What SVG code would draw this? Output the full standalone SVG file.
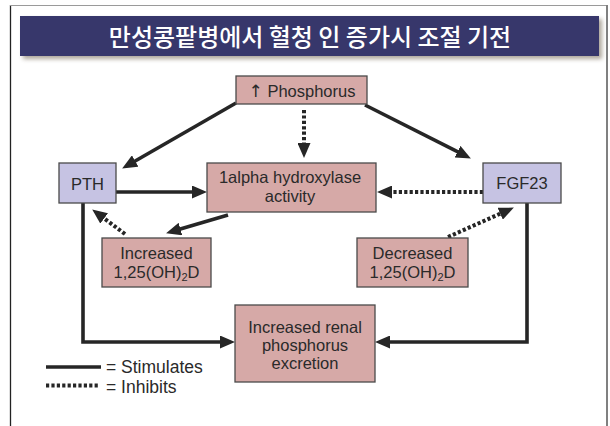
<svg xmlns="http://www.w3.org/2000/svg" width="610" height="426" viewBox="0 0 610 426">
<style>
.box{stroke:#4a4a4a;stroke-width:1.3}
.pink{fill:#d6a9a7}
.lav{fill:#c6c3e3}
.t{font-family:"Liberation Sans",Arial,sans-serif;font-size:16.5px;fill:#2a2a2a;text-anchor:middle}
.lg{font-family:"Liberation Sans",Arial,sans-serif;font-size:17.5px;fill:#2a2a2a}
.s{fill:none;stroke:#262626;stroke-width:3.6}
.d{fill:none;stroke:#262626;stroke-width:4;stroke-dasharray:3.2 2.2}
</style>
<defs>
<marker id="ah" viewBox="0 0 15 13" refX="1" refY="6.5" markerWidth="15" markerHeight="13" markerUnits="userSpaceOnUse" orient="auto">
<path d="M0,0 L15,6.5 L0,13 z" fill="#262626"/>
</marker>
<filter id="sh" x="-5%" y="-30%" width="110%" height="160%">
<feGaussianBlur stdDeviation="2"/>
</filter>
</defs>
<rect width="610" height="426" fill="#ffffff"/>
<g id="frame">
<line x1="10.5" y1="5" x2="10.5" y2="426" stroke="#222" stroke-width="1.3"/>
<line x1="10" y1="5.5" x2="607" y2="5.5" stroke="#9a9a9a" stroke-width="1"/>
<line x1="607" y1="5" x2="607" y2="426" stroke="#808080" stroke-width="2"/>
</g>
<g id="title">
<rect x="23" y="19" width="579" height="40" fill="#8a8070" opacity="0.7" filter="url(#sh)"/>
<rect x="20" y="16" width="579" height="40" fill="#37376b"/>
<text x="310" y="46" font-family="'Noto Sans CJK KR','Noto Sans',sans-serif" font-size="24" font-weight="500" fill="#ffffff" text-anchor="middle">만성콩팥병에서 혈청 인 증가시 조절 기전</text>
</g>
<g id="connectors">
<path class="s" d="M236,103 L134.3,161.5" marker-end="url(#ah)"/>
<path class="s" d="M365,105 L458.4,152.1" marker-end="url(#ah)"/>
<path class="d" d="M304,110 V144" marker-end="url(#ah)"/>
<path class="s" d="M116,192 H193" marker-end="url(#ah)"/>
<path class="s" d="M228,215 L179.5,229.3" marker-end="url(#ah)"/>
<path class="d" d="M125,234 L103.4,217.8" marker-end="url(#ah)"/>
<path class="d" d="M483,192 H391" marker-end="url(#ah)"/>
<path class="d" d="M448,237 L501.1,213.3" marker-end="url(#ah)"/>
<path class="s" d="M83,203 V342 H221" marker-end="url(#ah)"/>
<path class="s" d="M527,203 V342 H389" marker-end="url(#ah)"/>
</g>
<g id="phosphorus">
<rect class="box pink" x="236" y="76" width="131" height="28"/>
<text class="t" x="302" y="97"><tspan font-family="'DejaVu Sans',sans-serif" font-size="17">↑</tspan> Phosphorus</text>
</g>
<g id="pth">
<rect class="box lav" x="59" y="163" width="57" height="40"/>
<text class="t" x="87.5" y="190">PTH</text>
</g>
<g id="hydroxylase">
<rect class="box pink" x="207" y="163" width="169" height="49"/>
<text class="t" x="290" y="183">1alpha hydroxylase</text>
<text class="t" x="290" y="202">activity</text>
</g>
<g id="fgf23">
<rect class="box lav" x="483" y="163" width="78" height="40"/>
<text class="t" x="522" y="189">FGF23</text>
</g>
<g id="increased">
<rect class="box pink" x="102" y="238" width="109" height="49"/>
<text class="t" x="156.5" y="259">Increased</text>
<text class="t" x="156.5" y="278">1,25(OH)<tspan font-size="11" dy="3">2</tspan><tspan dy="-3">D</tspan></text>
</g>
<g id="decreased">
<rect class="box pink" x="357" y="238" width="111" height="49"/>
<text class="t" x="412.5" y="259">Decreased</text>
<text class="t" x="412.5" y="278">1,25(OH)<tspan font-size="11" dy="3">2</tspan><tspan dy="-3">D</tspan></text>
</g>
<g id="excretion">
<rect class="box pink" x="235" y="305" width="140" height="77"/>
<text class="t" x="305" y="333">Increased renal</text>
<text class="t" x="305" y="351">phosphorus</text>
<text class="t" x="305" y="369">excretion</text>
</g>
<g id="legend">
<line class="s" x1="46" y1="367" x2="101" y2="367"/>
<text class="lg" x="106" y="373">= Stimulates</text>
<line class="d" x1="46" y1="385.5" x2="100" y2="385.5"/>
<text class="lg" x="106" y="393">= Inhibits</text>
</g>
</svg>
